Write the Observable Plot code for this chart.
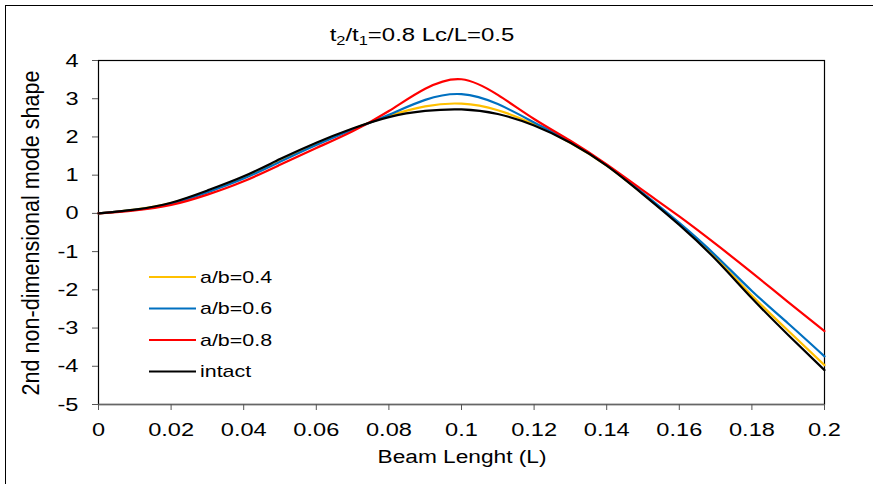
<!DOCTYPE html>
<html><head><meta charset="utf-8">
<script src="https://cdn.jsdelivr.net/npm/d3@7"></script>
<script src="https://cdn.jsdelivr.net/npm/@observablehq/plot@0.6"></script>
<style>
html,body{margin:0;padding:0;background:#fff;overflow:hidden;}
#wrap{position:relative;width:873px;height:484px;}
#border{position:absolute;left:5px;top:5px;width:900px;height:500px;border-left:1.5px solid #000;border-top:1.5px solid #000;pointer-events:none}
svg{position:absolute;left:0;top:0}
</style></head><body>
<div id="wrap"><div id="border"></div></div>
<script>
// ---- data ----
const xs = [0,0.01,0.02,0.03,0.04,0.05,0.06,0.07,0.08,0.09,0.10,0.11,0.12,0.13,0.14,0.15,0.16,0.17,0.18,0.19,0.20];
const ab04 = [0,0.10,0.27,0.58,0.95,1.40,1.83,2.21,2.55,2.80,2.87,2.70,2.33,1.85,1.25,0.51,-0.28,-1.16,-2.15,-3.07,-3.97];
const ab06 = [0,0.09,0.25,0.55,0.91,1.35,1.79,2.19,2.58,2.97,3.12,2.86,2.38,1.87,1.26,0.53,-0.25,-1.10,-2.03,-2.88,-3.74];
const ab08 = [0,0.08,0.22,0.49,0.84,1.27,1.71,2.15,2.68,3.26,3.51,3.10,2.47,1.90,1.28,0.60,-0.08,-0.80,-1.55,-2.32,-3.08];
const intact = [0,0.10,0.28,0.60,0.97,1.42,1.85,2.22,2.52,2.68,2.72,2.60,2.30,1.85,1.25,0.50,-0.30,-1.20,-2.22,-3.18,-4.10];
const seriesNames = ["a/b=0.4","a/b=0.6","a/b=0.8","intact"];
const seriesValues = [ab04, ab06, ab08, intact];
const seriesColors = ["#FFC000","#0070C0","#FF0000","#000000"];
const xTicks = [0,0.02,0.04,0.06,0.08,0.1,0.12,0.14,0.16,0.18,0.2];
const yTicks = [-5,-4,-3,-2,-1,0,1,2,3,4];
const xDomain = [0,0.2];
const yDomain = [-5,4];
const titleParts = ["t","2","/t","1","=0.8 Lc/L=0.5"];
const xTitle = "Beam Lenght (L)";
const yTitle = "2nd non-dimensional mode shape";

// long table built from the arrays
const rows = [];
seriesNames.forEach((name, i) => xs.forEach((x, j) => rows.push({series: name, x, y: seriesValues[i][j]})));

const FONT = "'Liberation Sans', Arial, sans-serif";
const fmt = d => String(d);

const chart = Plot.plot({
  width: 873, height: 484,
  marginLeft: 98, marginRight: 49, marginTop: 60, marginBottom: 80,
  style: {fontFamily: FONT, fontSize: "19px", color: "#000", background: "transparent"},
  x: {domain: xDomain, label: null},
  y: {domain: yDomain, label: null},
  color: {domain: seriesNames, range: seriesColors},
  marks: [
    Plot.frame({stroke: "#000", strokeWidth: 1.2}),
    Plot.ruleY([yDomain[0]], {stroke: "#666", strokeWidth: 1.5}),
    Plot.axisX({ticks: xTicks, tickFormat: fmt, tickSize: 6, tickPadding: 12, stroke: "#555", label: null}),
    Plot.axisY({ticks: yTicks, tickFormat: fmt, tickSize: 6, tickPadding: 14, stroke: "#555", label: null}),
    Plot.line(rows, {x: "x", y: "y", z: "series", stroke: "series", strokeWidth: 2.2, curve: "natural"})
  ]
});
document.getElementById("wrap").appendChild(chart);

const svg = d3.select(chart);
// title with subscripts
const title = svg.append("text").attr("x", 422).attr("y", 41).attr("text-anchor", "middle")
  .attr("font-family", FONT).attr("font-size", 19).attr("fill", "#000");
titleParts.forEach((p, i) => {
  const t = title.append("tspan").text(p);
  if (i % 2 === 1) t.attr("font-size", 13).attr("dy", 4);
  else if (i > 0) t.attr("dy", -4);
});
// x title
svg.append("text").attr("class", "stretch").attr("x", 462).attr("y", 463).attr("text-anchor", "middle")
  .attr("font-family", FONT).attr("font-size", 18).attr("fill", "#000").text(xTitle);
// y title
const yt = svg.append("text").attr("transform", "translate(39,233) rotate(-90)").attr("text-anchor", "middle")
  .attr("font-family", FONT).attr("font-size", 23).attr("fill", "#000").text(yTitle);
// legend
const leg = svg.append("g").attr("text-anchor", "start");
seriesNames.forEach((name, i) => {
  const y = 277 + i * 31.5;
  leg.append("line").attr("x1", 149).attr("x2", 196).attr("y1", y).attr("y2", y)
    .attr("stroke", seriesColors[i]).attr("stroke-width", 2.2);
  leg.append("text").attr("class", "stretch").attr("x", 200).attr("y", y).attr("dy", "0.35em")
    .attr("text-anchor", "start")
    .attr("font-family", FONT).attr("font-size", 17).attr("fill", "#000").text(name);
});

// mimic the horizontally stretched glyphs of the reference
function stretch(el, f) {
  const w = el.getComputedTextLength();
  el.setAttribute("textLength", (w * f).toFixed(1));
  el.setAttribute("lengthAdjust", "spacingAndGlyphs");
}
chart.querySelectorAll('g[aria-label$="tick label"] text').forEach(t => stretch(t, 1.24));
chart.querySelectorAll("text.stretch").forEach(t => stretch(t, 1.26));
stretch(title.node(), 1.26);
yt.attr("textLength", 325).attr("lengthAdjust", "spacingAndGlyphs");
</script>
</body></html>
